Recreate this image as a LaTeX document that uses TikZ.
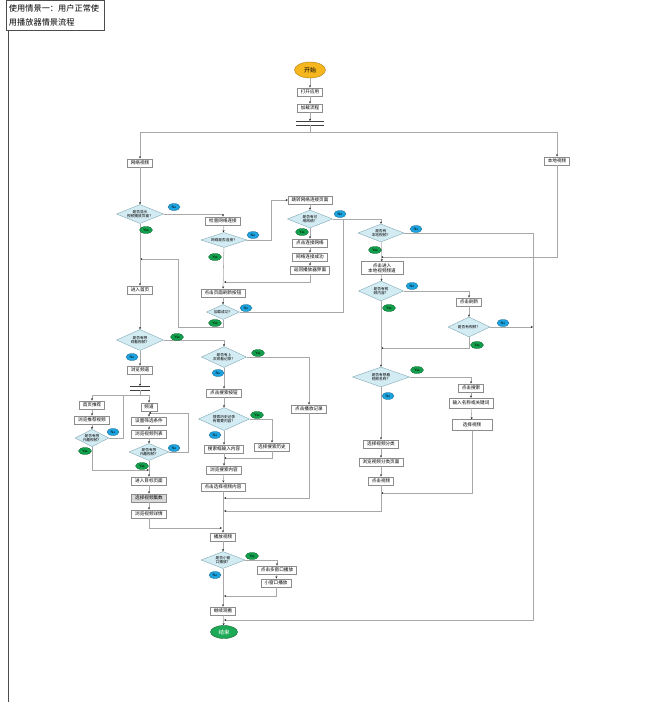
\documentclass[tikz,border=0pt]{standalone}
\usepackage{fontspec}
\newfontfamily\cjk{Noto Sans CJK SC}
\usetikzlibrary{shapes.geometric,arrows.meta,shadows}
\definecolor{lineg}{HTML}{A8A8A8}
\definecolor{boxb}{HTML}{8C8C8C}
\definecolor{diaf}{HTML}{D3EBF2}
\definecolor{diab}{HTML}{82AAB8}
\definecolor{yesg}{HTML}{12A04C}
\definecolor{nob}{HTML}{1DA4E0}
\definecolor{startc}{HTML}{F5B61E}
\definecolor{endc}{HTML}{1DAA58}
\tikzset{
  box/.style={rectangle, draw=boxb, fill=white, line width=0.45pt,
    font=\cjk\fontsize{4.6}{5.4}\selectfont, inner xsep=3.5pt, inner ysep=1pt,
    minimum height=8.5pt, align=center,
    drop shadow={shadow xshift=0.6pt, shadow yshift=-0.6pt, fill=black!25, opacity=1}},
  dia/.style={diamond, draw=diab, fill=diaf, line width=0.4pt, inner sep=0pt, aspect=2.5,
    font=\cjk\fontsize{3.7}{4.4}\selectfont, align=center},
  yes/.style={ellipse, fill=yesg, draw=yesg!60!black, line width=0.3pt, inner sep=0pt,
    minimum width=13pt, minimum height=7pt, font=\sffamily\fontsize{3.6}{4}\selectfont},
  no/.style={ellipse, fill=nob, draw=nob!60!black, line width=0.3pt, inner sep=0pt,
    minimum width=12pt, minimum height=7pt, font=\sffamily\fontsize{3.6}{4}\selectfont},
  conn/.style={draw=lineg, line width=0.55pt, -{Stealth[length=2.2pt,width=2pt,color=black!85]}},
  wire/.style={draw=lineg, line width=0.55pt},
  barline/.style={draw=black!75, line width=0.7pt},
}
\begin{document}
\begin{tikzpicture}[x=1pt,y=-1pt]
\useasboundingbox (0,0) rectangle (648,702);
\fill[white] (0,0) rectangle (648,702);
% page frame and title
\draw[black!70, line width=0.8pt] (8,31) -- (8,702);
\node[draw=black!70, line width=0.6pt, fill=white, minimum width=98pt, minimum height=30pt,
  text width=92pt, align=left, inner sep=2pt, font=\cjk\fontsize{8.2}{14}\selectfont] (title) at (55,15.5)
  {使用情景一：用户正常使\\用播放器情景流程};

% ---------- nodes ----------
\node[ellipse, fill=startc, draw=startc!70!black, line width=0.4pt, minimum width=31pt, minimum height=16pt, inner sep=0pt, font=\cjk\fontsize{6}{7}\selectfont] (start) at (310,70) {开始};
\node[box] (open) at (310,92) {打开应用};
\node[box] (load) at (310,108) {加载流程};
\coordinate (s1t) at (310,121);
\coordinate (s1b) at (310,125);
\coordinate (split) at (310,132);
\node[box] (net) at (140,163) {网络视频};
\node[box] (local) at (557,161) {本地视频};

\node[dia, aspect=2.5, minimum width=47pt, minimum height=19pt] (d1) at (140,214) {是否显示\\视频播放页面？};
\node[box] (chk) at (223,221) {检查网络连接};
\node[dia, aspect=3, minimum width=46pt, minimum height=15pt] (d2) at (224,240) {网络是否连接？};
\node[box] (jump) at (310,200) {跳转网络连接页面};
\node[dia, aspect=2.5, minimum width=45pt, minimum height=18pt] (d3) at (310,219) {是否有可\\用网络？};
\node[box] (cnet) at (310,243) {点击连接网络};
\node[box] (netok) at (310,257) {网络连接成功};
\node[box] (ret) at (310,270) {返回播放器界面};
\node[box] (refresh) at (223,293) {点击页面刷新按钮};
\node[dia, aspect=2.2, minimum width=33pt, minimum height=15pt] (d8) at (223,312) {加载成功？};
\node[box] (home) at (140,290) {进入首页};
\node[dia, aspect=2.2, minimum width=47pt, minimum height=21pt] (d9) at (140,340) {是否有想\\观看视频？};
\node[box] (chan) at (140,370) {浏览频道};
\coordinate (s2t) at (140,386);
\coordinate (s2b) at (140,390);
\coordinate (sp2) at (140,395);

\node[box] (rec) at (92,405) {首页推荐};
\node[box] (brec) at (92,420) {浏览推荐视频};
\node[dia, aspect=1.95, minimum width=33pt, minimum height=17pt] (d12) at (92,438) {是否有感\\兴趣视频？};
\node[box] (pd) at (149,407) {频道};
\node[box] (filt) at (149,421) {设置筛选条件};
\node[box] (list) at (149,434) {浏览视频列表};
\node[dia, aspect=2.35, minimum width=40pt, minimum height=17pt] (d13) at (149,452) {是否有感\\兴趣视频？};
\node[box] (target) at (149,481) {进入目标页面};
\node[box, fill=black!15] (ep) at (149,498) {选择视频集数};
\node[box] (detail) at (149,514) {浏览视频详情};

\node[dia, aspect=2.15, minimum width=45pt, minimum height=21pt] (d10) at (224,357) {是否有上\\次观看记录？};
\node[box] (sbtn) at (224,393) {点击搜索按钮};
\node[box] (precord) at (309,409) {点击播放记录};
\node[dia, aspect=2.2, minimum width=51pt, minimum height=23pt] (d11) at (224,419) {搜索历史记录\\有需要内容？};
\node[box] (hist) at (272,447) {选择搜索历史};
\node[box] (sinput) at (224,449) {搜索框输入内容};
\node[box] (bsearch) at (224,470) {浏览搜索内容};
\node[box] (csel) at (223,487) {点击选择视频内容};

\node[dia, aspect=2.55, minimum width=46pt, minimum height=18pt] (d4) at (381,233) {是否有\\本地视频？};
\node[box, minimum width=42pt, minimum height=13pt] (lc) at (382,268) {点击进入\\本地视频频道};
\node[dia, aspect=2.25, minimum width=45pt, minimum height=20pt] (d5) at (381,291) {是否有视\\频内容？};
\node[box] (ref2) at (469,302) {点击刷新};
\node[dia, aspect=2.1, minimum width=42pt, minimum height=20pt] (d6) at (469,327) {是否有视频？};
\node[dia, aspect=2.85, minimum width=57pt, minimum height=20pt] (d7) at (381,377) {是否有想看\\视频名称？};
\node[box] (srch2) at (471,388) {点击搜索};
\node[box, minimum height=10pt] (inp2) at (471,403) {输入名称或关键词};
\node[box, minimum width=40pt, minimum height=11pt] (selv) at (472,425) {选择视频};
\node[box] (cat) at (381,444) {选择视频分类};
\node[box] (catp) at (381,462) {浏览视频分类页面};
\node[box] (clickv) at (381,481) {点击视频};

\node[box] (play) at (223,537) {播放视频};
\node[dia, aspect=2.6, minimum width=44pt, minimum height=17pt] (d14) at (223,560) {是否小窗\\口播放？};
\node[box] (multi) at (277,570) {点击多窗口播放};
\node[box] (small) at (276,583) {小窗口播放};
\node[box] (cont) at (223,611) {继续观看};
\node[ellipse, fill=endc, draw=endc!60!black, line width=0.4pt, minimum width=27pt, minimum height=13pt, inner sep=0pt, text=white, font=\cjk\fontsize{5.5}{6}\selectfont] (end) at (224,632) {结束};

% junction coordinates
\coordinate (c1) at (271,240);
\coordinate (m1) at (224,282);
\coordinate (c2) at (343,219);
\coordinate (c3) at (381,219);
\coordinate (c4) at (178,327);
\coordinate (m2) at (140,259);
\coordinate (c5) at (123,395);
\coordinate (m3) at (149,470);
\coordinate (c6) at (188,413);
\coordinate (m4) at (149,413);
\coordinate (m5) at (222,528);
\coordinate (m6) at (224,458);
\coordinate (m7) at (224,498);
\coordinate (m8) at (224,511);
\coordinate (r1) at (533,233);
\coordinate (r3) at (533,327);
\coordinate (m9) at (224,620);
\coordinate (m10) at (381,257);
\coordinate (m11) at (381,348);
\coordinate (m12) at (381,493);
\coordinate (m13) at (224,596);

% ---------- sync bars ----------
\draw[barline] (296,121) -- (324,121);
\draw[barline] (296,125) -- (324,125);
\draw[barline] (130,386) -- (150,386);
\draw[barline] (130,390) -- (150,390);

% ---------- connectors ----------
\draw[conn] (start) -- (open);
\draw[conn] (open) -- (load);
\draw[conn] (load) -- (s1t);
\draw[wire] (s1b) -- (split);
\draw[conn] (split) -| (net);
\draw[conn] (split) -| (local);
\draw[conn] (net) -- (d1);
\draw[conn] (d1.east) -| (chk);
\draw[conn] (chk) -- (d2);
\draw[conn] (d2.east) -- (c1) |- (jump.west);
\draw[conn] (jump) -- (d3);
\draw[conn] (d3) -- (cnet);
\draw[conn] (cnet) -- (netok);
\draw[conn] (netok) -- (ret);
\draw[conn] (ret.south) |- (m1);
\draw[conn] (d2) -- (refresh);
\draw[conn] (d3.east) -- (c3) -- (d4.north);
\draw[conn] (refresh) -- (d8);
\draw[wire] (d8.east) -| (c2);
\draw[conn] (d8.south) |- (c4) |- (m2);
\draw[conn] (d1) -- (home);
\draw[conn] (home) -- (d9);
\draw[conn] (d9.east) -| (d10);
\draw[conn] (d9) -- (chan);
\draw[conn] (chan) -- (s2t);
\draw[wire] (s2b) -- (sp2);
\draw[conn] (sp2) -| (rec);
\draw[conn] (sp2) -| (pd);
\draw[conn] (rec) -- (brec);
\draw[conn] (brec) -- (d12);
\draw[wire] (d12.east) -| (c5);
\draw[conn] (d12.south) |- (m3);
\draw[conn] (pd) -- (filt);
\draw[conn] (filt) -- (list);
\draw[conn] (list) -- (d13);
\draw[conn] (d13.east) -| (c6) -- (m4);
\draw[conn] (d13) -- (target);
\draw[conn] (target) -- (ep);
\draw[conn] (ep) -- (detail);
\draw[conn] (detail.south) |- (m5);
\draw[conn] (d10.east) -| (precord);
\draw[conn] (d10) -- (sbtn);
\draw[conn] (sbtn) -- (d11);
\draw[conn] (d11.east) -| (hist);
\draw[conn] (d11) -- (sinput);
\draw[conn] (hist.south) |- (m6);
\draw[conn] (sinput) -- (bsearch);
\draw[conn] (bsearch) -- (csel);
\draw[conn] (precord.south) |- (m7);
\draw[conn] (csel) -- (play);
\draw[conn] (d4.east) -- (r1) |- (m9);
\draw[conn] (local.south) |- (m10);
\draw[conn] (d4) -- (lc);
\draw[conn] (lc) -- (d5);
\draw[conn] (d5.east) -| (ref2);
\draw[conn] (ref2) -- (d6);
\draw[conn] (d6.east) -- (r3);
\draw[conn] (d6.south) |- (m11);
\draw[conn] (d5) -- (d7);
\draw[conn] (d7.east) -| (srch2);
\draw[conn] (srch2) -- (inp2);
\draw[conn] (inp2) -- (selv);
\draw[conn] (selv.south) |- (m12);
\draw[conn] (d7) -- (cat);
\draw[conn] (cat) -- (catp);
\draw[conn] (catp) -- (clickv);
\draw[conn] (clickv.south) |- (m8);
\draw[conn] (play) -- (d14);
\draw[conn] (d14.east) -| (multi);
\draw[conn] (multi) -- (small);
\draw[conn] (small.south) |- (m13);
\draw[conn] (d14) -- (cont);
\draw[conn] (cont) -- (end);

% ---------- Yes / No labels ----------
\node[no] (n1) at (174,207) {No};
\node[yes] (y1) at (146,230) {Yes};
\node[no] (n2) at (253,235) {No};
\node[yes] (y2) at (215,257) {Yes};
\node[no] (n3) at (340,214) {No};
\node[yes] (y3) at (302,232) {Yes};
\node[no] (n8) at (246,308) {No};
\node[yes] (y8) at (215,323) {Yes};
\node[yes] (y9) at (177,337) {Yes};
\node[no] (n9) at (132,357) {No};
\node[yes] (y10) at (258,353) {Yes};
\node[no] (n10) at (218,373) {No};
\node[yes] (y11) at (257,415) {Yes};
\node[no] (n11) at (215,435) {No};
\node[no] (n12) at (113,432) {No};
\node[yes] (y12) at (85,451) {Yes};
\node[no] (n13) at (174,448) {No};
\node[yes] (y13) at (142,466) {Yes};
\node[no] (n4) at (416,229) {No};
\node[yes] (y4) at (375,250) {Yes};
\node[no] (n5) at (412,286) {No};
\node[yes] (y5) at (389,308) {Yes};
\node[no] (n6) at (503,323) {No};
\node[yes] (y6) at (477,345) {Yes};
\node[yes] (y7) at (417,370) {Yes};
\node[no] (n7) at (388,396) {No};
\node[yes] (y14) at (252,556) {Yes};
\node[no] (n14) at (215,575) {No};
\end{tikzpicture}
\end{document}
